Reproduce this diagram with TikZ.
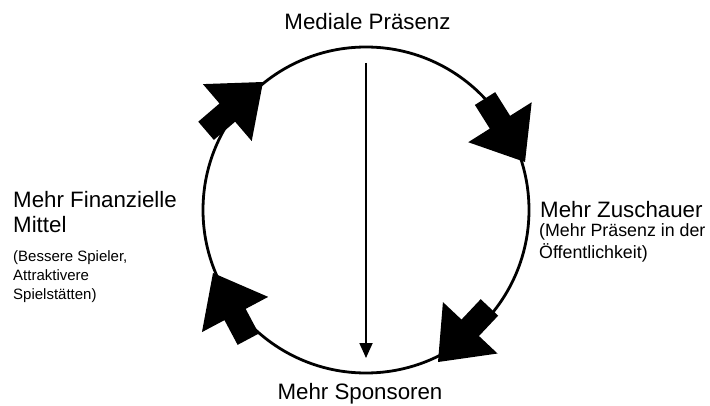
\documentclass[tikz,border=0pt]{standalone}
\usepackage{fontspec}
\setmainfont{Liberation Sans}
\usetikzlibrary{arrows.meta}
\tikzset{
  bigtext/.style={font=\fontsize{22.3}{26}\selectfont, inner sep=0pt},
  smalltextl/.style={font=\fontsize{15}{18}\selectfont, inner sep=0pt},
  smalltextr/.style={font=\fontsize{17.8}{21}\selectfont, inner sep=0pt},
  bigarrow/.pic={\fill[black] (0,0) -- (-47,37.5) -- (-47,12) -- (-75,12) -- (-75,-12) -- (-47,-12) -- (-47,-37.5) -- cycle;}
}
\begin{document}
\begin{tikzpicture}[x=1pt,y=1pt]
\useasboundingbox (0,0) rectangle (710,405);
% circle
\node[circle, draw, line width=2.8pt, minimum size=326pt, inner sep=0pt] (ring) at (366,195) {};
% vertical arrow
\coordinate (vtop) at (366,342);
\coordinate (vbot) at (366,47);
\draw[line width=1.8pt, -{Triangle[length=15pt,width=13pt]}] (vtop) -- (vbot);
% big arrows
\pic (a1) [rotate=40.6] at (263,323) {bigarrow};
\pic (a2) [rotate=-57.8] at (525,243) {bigarrow};
\pic (a3) [rotate=-133.3] at (438,43) {bigarrow};
\pic (a4) [rotate=118] at (213,132) {bigarrow};
% texts
\node[bigtext, anchor=base] (top) at (367.5,375) {Mediale Präsenz};
\node[bigtext, anchor=base] (bottom) at (360,5.5) {Mehr Sponsoren};
\node[bigtext, anchor=base west] (r1) at (540,187) {Mehr Zuschauer};
\node[smalltextr, anchor=base west] (r2) at (539,168) {(Mehr Präsenz in der};
\node[smalltextr, anchor=base west] (r3) at (539,146.5) {Öffentlichkeit)};
\node[bigtext, anchor=base west] (l1) at (13,197) {Mehr Finanzielle};
\node[bigtext, anchor=base west] (l2) at (13,172) {Mittel};
\node[smalltextl, anchor=base west] (l3) at (13,143.3) {(Bessere Spieler,};
\node[smalltextl, anchor=base west] (l4) at (13,125) {Attraktivere};
\node[smalltextl, anchor=base west] (l5) at (13,106) {Spielstätten)};
\end{tikzpicture}
\end{document}
